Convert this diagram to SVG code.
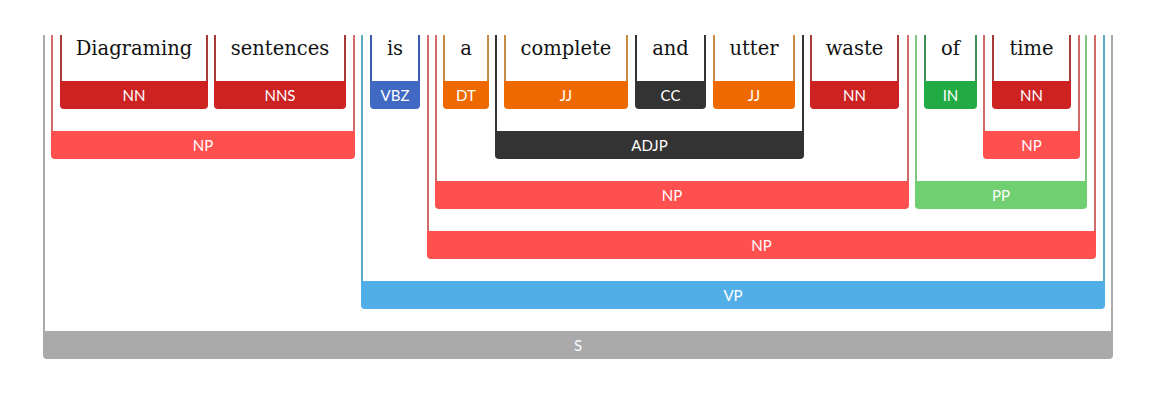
<svg xmlns="http://www.w3.org/2000/svg" width="1176" height="403" viewBox="0 0 1176 403">
<style>
  .word { font-family: "DejaVu Serif", "Liberation Serif", serif; font-size: 19.5px; fill: #111; text-anchor: middle; }
  .lab { font-family: Lato, "Liberation Sans", sans-serif; font-size: 15px; fill: #ffffff; text-anchor: middle; }
  line { stroke-width: 2; }
  .nn path { fill: #cc2222; } .nn line { stroke: #a83a3a; }
  .vbz path { fill: #4169c4; } .vbz line { stroke: #3a5eae; }
  .jj path { fill: #ee6a00; } .jj line { stroke: #c98a46; }
  .cc path { fill: #333333; } .cc line { stroke: #333333; }
  .in path { fill: #22aa44; } .in line { stroke: #3d8f55; }
  .np path { fill: #ff5050; } .np line { stroke: #d26a6a; }
  .adjp path { fill: #333333; } .adjp line { stroke: #333333; }
  .pp path { fill: #70cf70; } .pp line { stroke: #80c880; }
  .vp path { fill: #52aee6; } .vp line { stroke: #5ea9c4; }
  .s path { fill: #aaaaaa; } .s line { stroke: #aaaaaa; }
</style>
<rect width="1176" height="403" fill="#ffffff"/>
<g id="connectors"/>

<!-- S -->
<g id="s" class="s">
  <line x1="44" y1="35" x2="44" y2="333"/><line x1="1112" y1="35" x2="1112" y2="333"/>
  <path d="M43 331 H1113 V355 A4 4 0 0 1 1109 359 H47 A4 4 0 0 1 43 355 Z"/>
  <text class="lab" x="578" y="350.5">S</text>
</g>
<!-- VP -->
<g id="vp" class="vp">
  <line x1="362" y1="35" x2="362" y2="283"/><line x1="1104" y1="35" x2="1104" y2="283"/>
  <path d="M361 281 H1105 V305 A4 4 0 0 1 1101 309 H365 A4 4 0 0 1 361 305 Z"/>
  <text class="lab" x="733" y="300.5">VP</text>
</g>
<!-- NP3 -->
<g id="np3" class="np">
  <line x1="428" y1="35" x2="428" y2="233"/><line x1="1095" y1="35" x2="1095" y2="233"/>
  <path d="M427 231 H1096 V255 A4 4 0 0 1 1092 259 H431 A4 4 0 0 1 427 255 Z"/>
  <text class="lab" x="761.5" y="250.5">NP</text>
</g>
<!-- NP2 -->
<g id="np2" class="np">
  <line x1="436" y1="35" x2="436" y2="183"/><line x1="908" y1="35" x2="908" y2="183"/>
  <path d="M435 181 H909 V205 A4 4 0 0 1 905 209 H439 A4 4 0 0 1 435 205 Z"/>
  <text class="lab" x="672" y="200.5">NP</text>
</g>
<!-- PP -->
<g id="pp" class="pp">
  <line x1="916" y1="35" x2="916" y2="183"/><line x1="1086" y1="35" x2="1086" y2="183"/>
  <path d="M915 181 H1087 V205 A4 4 0 0 1 1083 209 H919 A4 4 0 0 1 915 205 Z"/>
  <text class="lab" x="1001" y="200.5">PP</text>
</g>
<!-- NP1 -->
<g id="np1" class="np">
  <line x1="52" y1="35" x2="52" y2="133"/><line x1="354" y1="35" x2="354" y2="133"/>
  <path d="M51 131 H355 V155 A4 4 0 0 1 351 159 H55 A4 4 0 0 1 51 155 Z"/>
  <text class="lab" x="203" y="150.5">NP</text>
</g>
<!-- ADJP -->
<g id="adjp" class="adjp">
  <line x1="496" y1="35" x2="496" y2="133"/><line x1="803" y1="35" x2="803" y2="133"/>
  <path d="M495 131 H804 V155 A4 4 0 0 1 800 159 H499 A4 4 0 0 1 495 155 Z"/>
  <text class="lab" x="649.5" y="150.5">ADJP</text>
</g>
<!-- NP time -->
<g id="np-time" class="np">
  <line x1="984" y1="35" x2="984" y2="133"/><line x1="1079" y1="35" x2="1079" y2="133"/>
  <path d="M983 131 H1080 V155 A4 4 0 0 1 1076 159 H987 A4 4 0 0 1 983 155 Z"/>
  <text class="lab" x="1031.5" y="150.5">NP</text>
</g>

<!-- Words -->
<g id="w-diagraming" class="nn">
  <line x1="61" y1="35" x2="61" y2="83"/><line x1="207" y1="35" x2="207" y2="83"/>
  <path d="M60 81 H208 V105 A4 4 0 0 1 204 109 H64 A4 4 0 0 1 60 105 Z"/>
  <text class="word" x="134" y="55">Diagraming</text>
  <text class="lab" x="134" y="100.5">NN</text>
</g>
<g id="w-sentences" class="nn">
  <line x1="215" y1="35" x2="215" y2="83"/><line x1="345" y1="35" x2="345" y2="83"/>
  <path d="M214 81 H346 V105 A4 4 0 0 1 342 109 H218 A4 4 0 0 1 214 105 Z"/>
  <text class="word" x="280" y="55">sentences</text>
  <text class="lab" x="280" y="100.5">NNS</text>
</g>
<g id="w-is" class="vbz">
  <line x1="371" y1="35" x2="371" y2="83"/><line x1="419" y1="35" x2="419" y2="83"/>
  <path d="M370 81 H420 V105 A4 4 0 0 1 416 109 H374 A4 4 0 0 1 370 105 Z"/>
  <text class="word" x="395" y="55">is</text>
  <text class="lab" x="395" y="100.5">VBZ</text>
</g>
<g id="w-a" class="jj">
  <line x1="444" y1="35" x2="444" y2="83"/><line x1="488" y1="35" x2="488" y2="83"/>
  <path d="M443 81 H489 V105 A4 4 0 0 1 485 109 H447 A4 4 0 0 1 443 105 Z"/>
  <text class="word" x="466" y="55">a</text>
  <text class="lab" x="466" y="100.5">DT</text>
</g>
<g id="w-complete" class="jj">
  <line x1="505" y1="35" x2="505" y2="83"/><line x1="627" y1="35" x2="627" y2="83"/>
  <path d="M504 81 H628 V105 A4 4 0 0 1 624 109 H508 A4 4 0 0 1 504 105 Z"/>
  <text class="word" x="566" y="55">complete</text>
  <text class="lab" x="566" y="100.5">JJ</text>
</g>
<g id="w-and" class="cc">
  <line x1="636" y1="35" x2="636" y2="83"/><line x1="705" y1="35" x2="705" y2="83"/>
  <path d="M635 81 H706 V105 A4 4 0 0 1 702 109 H639 A4 4 0 0 1 635 105 Z"/>
  <text class="word" x="670.5" y="55">and</text>
  <text class="lab" x="670.5" y="100.5">CC</text>
</g>
<g id="w-utter" class="jj">
  <line x1="714" y1="35" x2="714" y2="83"/><line x1="794" y1="35" x2="794" y2="83"/>
  <path d="M713 81 H795 V105 A4 4 0 0 1 791 109 H717 A4 4 0 0 1 713 105 Z"/>
  <text class="word" x="754" y="55">utter</text>
  <text class="lab" x="754" y="100.5">JJ</text>
</g>
<g id="w-waste" class="nn">
  <line x1="811" y1="35" x2="811" y2="83"/><line x1="898" y1="35" x2="898" y2="83"/>
  <path d="M810 81 H899 V105 A4 4 0 0 1 895 109 H814 A4 4 0 0 1 810 105 Z"/>
  <text class="word" x="854.5" y="55">waste</text>
  <text class="lab" x="854.5" y="100.5">NN</text>
</g>
<g id="w-of" class="in">
  <line x1="925" y1="35" x2="925" y2="83"/><line x1="976" y1="35" x2="976" y2="83"/>
  <path d="M924 81 H977 V105 A4 4 0 0 1 973 109 H928 A4 4 0 0 1 924 105 Z"/>
  <text class="word" x="950.5" y="55">of</text>
  <text class="lab" x="950.5" y="100.5">IN</text>
</g>
<g id="w-time" class="nn">
  <line x1="993" y1="35" x2="993" y2="83"/><line x1="1070" y1="35" x2="1070" y2="83"/>
  <path d="M992 81 H1071 V105 A4 4 0 0 1 1067 109 H996 A4 4 0 0 1 992 105 Z"/>
  <text class="word" x="1031.5" y="55">time</text>
  <text class="lab" x="1031.5" y="100.5">NN</text>
</g>
</svg>
